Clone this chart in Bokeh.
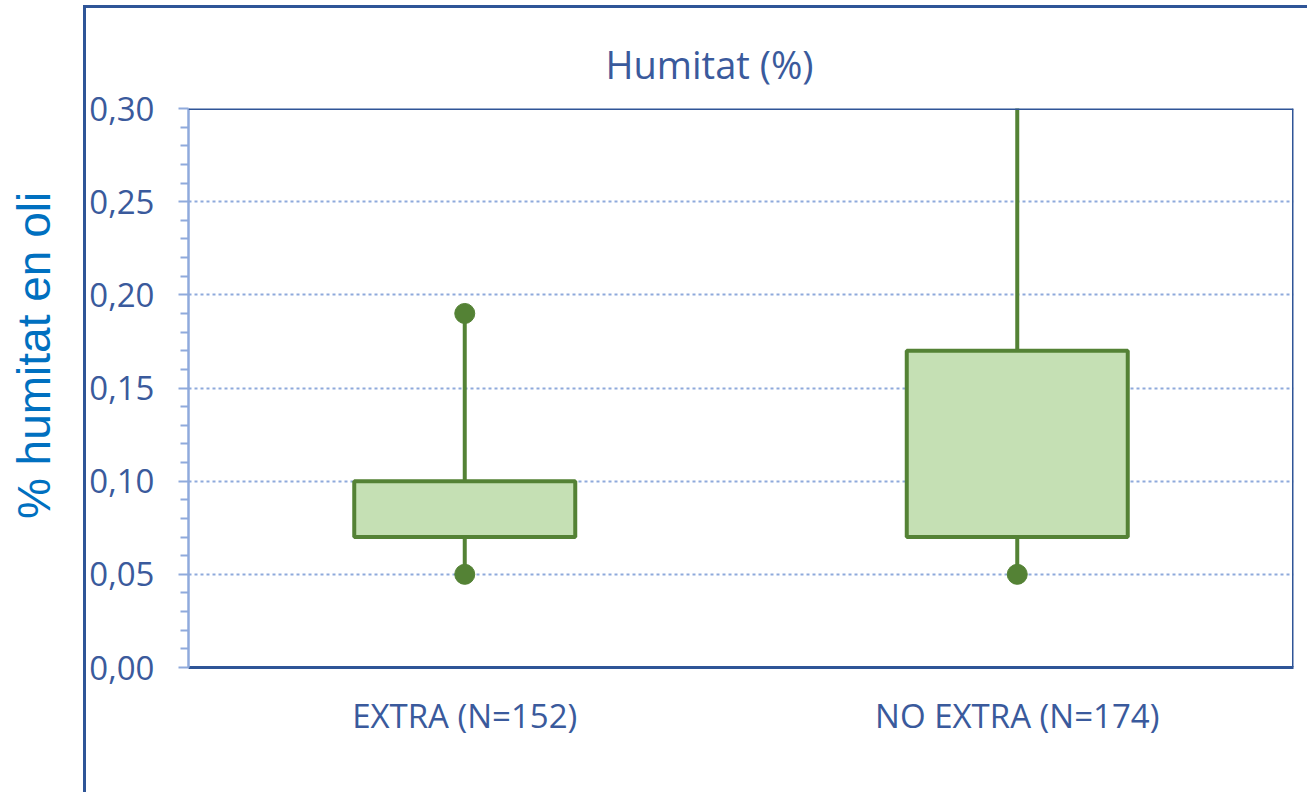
import math
from bokeh.plotting import figure
from bokeh.models import FactorRange, Range1d, FixedTicker, Span
from bokeh.layouts import row
from bokeh.embed import file_html
from bokeh.resources import INLINE
from bokeh.core.properties import value

# ---- data ----
categories = ["EXTRA (N=152)", "NO EXTRA (N=174)"]
q1 = [0.07, 0.07]
q3 = [0.10, 0.17]
lower = [0.05, 0.05]
upper = [0.19, 0.33]
y_ticks = [0.0, 0.05, 0.10, 0.15, 0.20, 0.25, 0.30]
y_tick_labels = ["0,00", "0,05", "0,10", "0,15", "0,20", "0,25", "0,30"]
y_minor_ticks = [0.01, 0.02, 0.03, 0.04, 0.06, 0.07, 0.08, 0.09,
                 0.11, 0.12, 0.13, 0.14, 0.16, 0.17, 0.18, 0.19,
                 0.21, 0.22, 0.23, 0.24, 0.26, 0.27, 0.28, 0.29]
title_text = "Humitat (%)"
y_label_text = "% humitat en oli"

# ---- styles ----
DARK = "#2F5597"
LIGHT = "#8FAADC"
TXT = "#3A5A9C"
GREEN = "#548235"
FILL = "#C5E0B4"
FONT = "Open Sans"

H = 787
LW = 83

# left figure holding the rotated axis title
lab = figure(width=LW, height=H + 5, x_range=Range1d(0, LW), y_range=Range1d(0, H + 5),
             x_axis_location=None, y_axis_location=None,
             toolbar_location=None, output_backend="svg", min_border=0)
lab.outline_line_color = None
lab.xgrid.visible = False
lab.ygrid.visible = False
lab.text(x=[33], y=[H + 5 - 358], text=[y_label_text], angle=math.pi / 2,
         text_align="center", text_baseline="middle",
         text_font=value("Liberation Sans"), text_font_size="46px",
         text_color="#0070C0")

p = figure(width=1224, height=H, x_range=FactorRange(*categories),
           y_range=Range1d(0, 0.30), toolbar_location=None,
           output_backend="svg", min_border_left=102, min_border_right=17,
           min_border_top=100, min_border_bottom=128)
p.styles = {"border-left": "3px solid " + DARK, "border-top": "3px solid " + DARK,
            "margin-top": "5px"}
p.outline_line_color = None

# title
p.title.text = title_text
p.title.align = "left"
p.title.offset = 417
p.title.text_font = FONT
p.title.text_font_size = "38px"
p.title.text_font_style = "normal"
p.title.text_color = TXT
p.title.standoff = 38

# y axis
p.yaxis.ticker = FixedTicker(ticks=y_ticks, minor_ticks=y_minor_ticks)
p.yaxis.major_label_overrides = dict(zip(y_ticks, y_tick_labels))
p.yaxis.axis_line_color = LIGHT
p.yaxis.axis_line_width = 2.5
p.yaxis.major_tick_line_color = LIGHT
p.yaxis.major_tick_line_width = 2
p.yaxis.major_tick_in = 0
p.yaxis.major_tick_out = 10
p.yaxis.minor_tick_line_color = LIGHT
p.yaxis.minor_tick_line_width = 2
p.yaxis.minor_tick_in = 0
p.yaxis.minor_tick_out = 8
p.yaxis.major_label_standoff = 24
p.yaxis.major_label_text_font = FONT
p.yaxis.major_label_text_font_size = "33px"
p.yaxis.major_label_text_color = TXT

# x axis
p.xaxis.axis_line_color = DARK
p.xaxis.axis_line_width = 3
p.xaxis.major_tick_line_color = None
p.xaxis.minor_tick_line_color = None
p.xaxis.major_tick_out = 0
p.xaxis.major_label_standoff = 25
p.xaxis.major_label_text_font = FONT
p.xaxis.major_label_text_font_size = "33px"
p.xaxis.major_label_text_color = TXT

# top & right frame lines
p.add_layout(Span(location=y_ticks[-1], dimension="width",
                  line_color=DARK, line_width=3))
p.add_layout(Span(location=len(categories), dimension="height",
                  line_color=DARK, line_width=3))

# grid
p.xgrid.visible = False
p.ygrid.ticker = FixedTicker(ticks=y_ticks)
p.ygrid.grid_line_color = LIGHT
p.ygrid.grid_line_width = 2
p.ygrid.grid_line_dash = "3 3"

# boxes
p.segment(x0=categories, y0=q3, x1=categories, y1=upper,
          line_color=GREEN, line_width=4)
p.segment(x0=categories, y0=q1, x1=categories, y1=lower,
          line_color=GREEN, line_width=4)
p.vbar(x=categories, bottom=q1, top=q3, width=0.4, fill_color=FILL,
       line_color=GREEN, line_width=4)
p.scatter(x=categories, y=upper, size=20, color=GREEN)
p.scatter(x=categories, y=lower, size=20, color=GREEN)

layout = row(lab, p)
open("out.html", "w").write(file_html(layout, INLINE))
